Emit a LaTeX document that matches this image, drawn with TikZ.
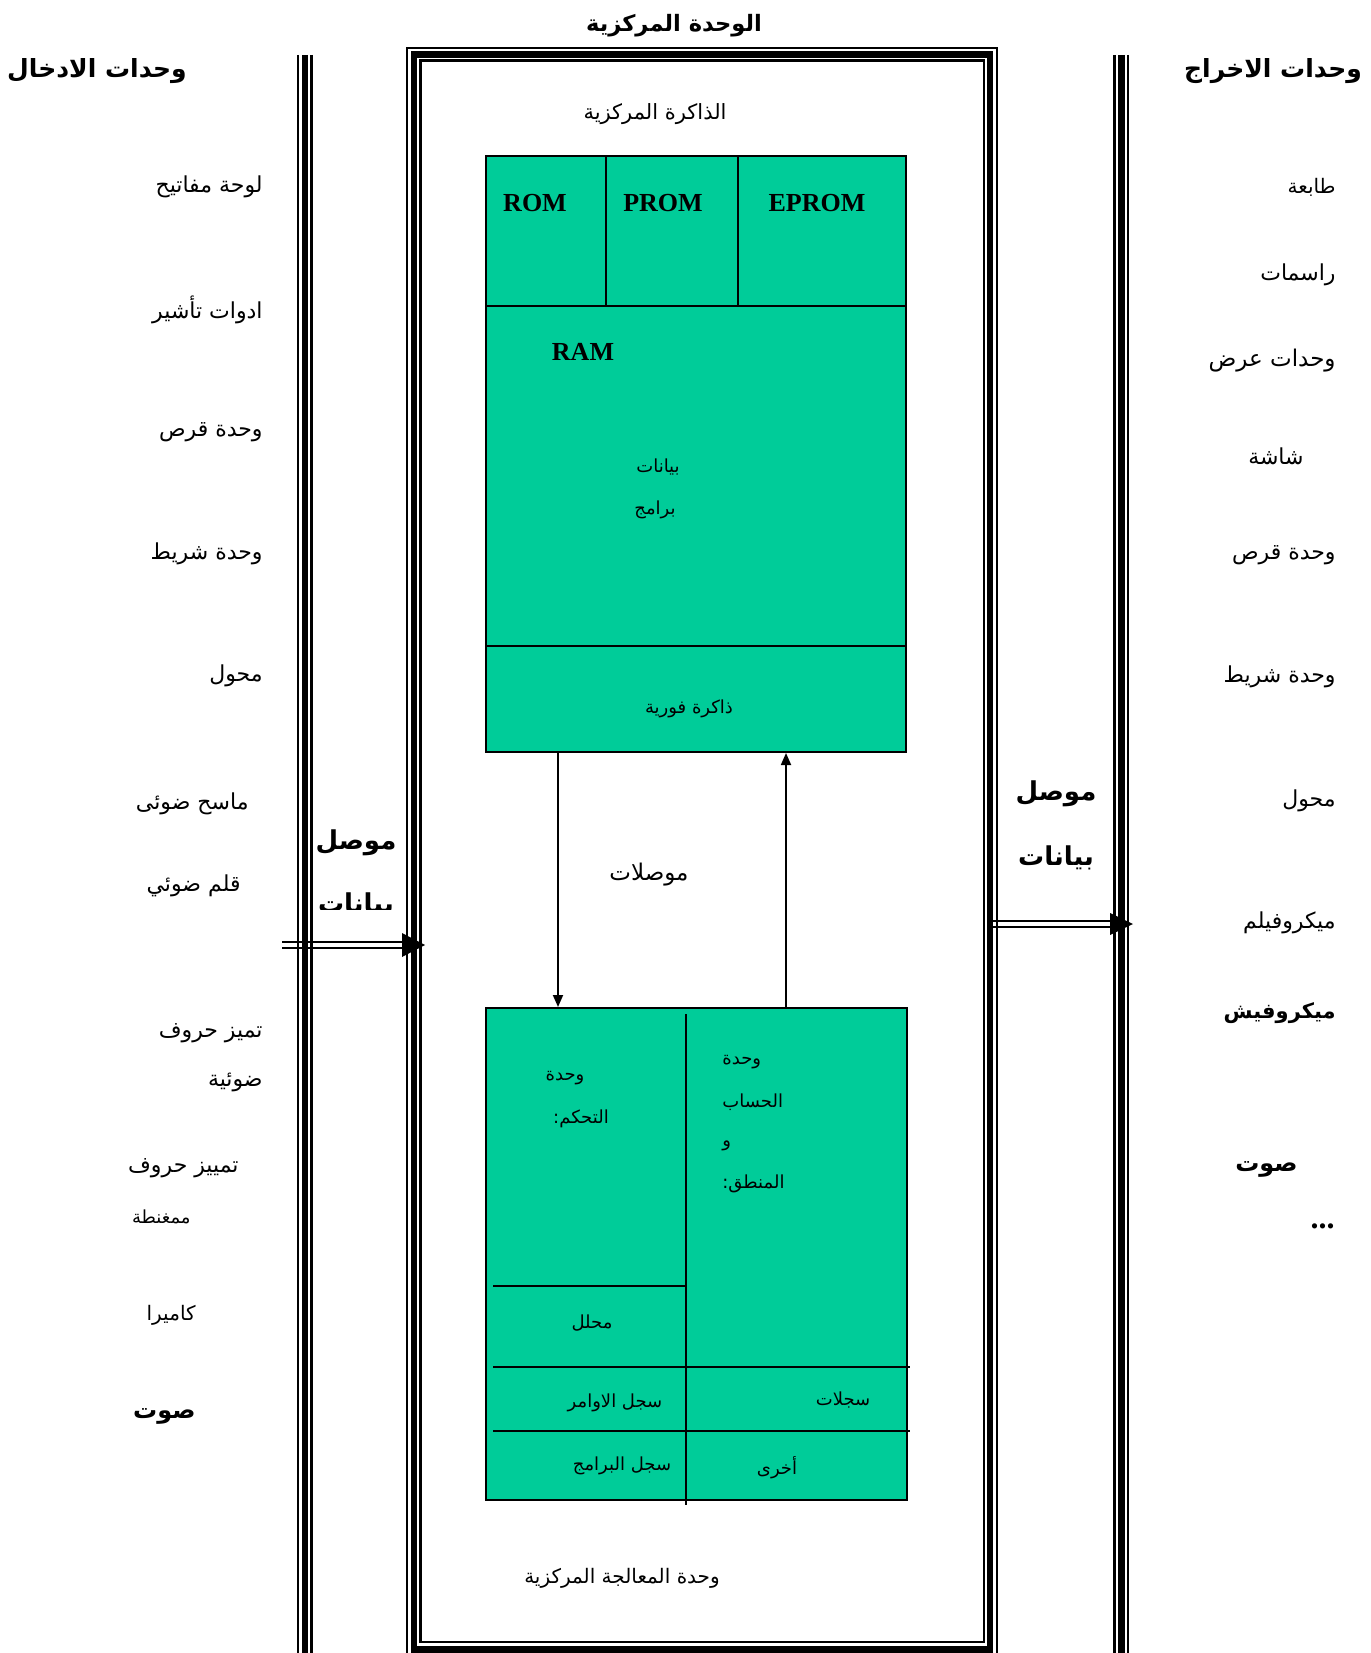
\documentclass[tikz,border=0pt]{standalone}
\usepackage{fontspec}
\setmainfont{Liberation Serif}
\newfontfamily\arfont[Script=Arabic]{DejaVu Sans}
\TeXXeTstate=1
\usetikzlibrary{arrows.meta}
\definecolor{cpugreen}{RGB}{0,204,153}
\newcommand{\AR}[1]{\beginR #1\endR}
\tikzset{
  item/.style={font=\arfont\fontsize{11}{13}\selectfont, inner sep=0pt, anchor=east},
  inlbl/.style={font=\arfont\fontsize{9}{11}\selectfont, inner sep=0pt},
  head/.style={font=\arfont\bfseries\fontsize{12.5}{14}\selectfont, inner sep=0pt},
  big/.style={font=\arfont\bfseries\fontsize{13}{15}\selectfont, inner sep=0pt},
  latin/.style={font=\bfseries\fontsize{13}{15}\selectfont, inner sep=0pt},
  greenbox/.style={draw=black, line width=1pt, fill=cpugreen, inner sep=0pt},
  divider/.style={line width=0.9pt},
  arr/.style={line width=0.9pt, -{Triangle[length=6pt,width=5pt]}},
  thin/.style={line width=1.2pt},
  thick/.style={line width=3.2pt}
}
\begin{document}
\begin{tikzpicture}[x=0.5pt,y=-0.5pt]
\useasboundingbox (0,0) rectangle (1370,1653);

% buses
\draw[thin] (298,55) -- (298,1653);
\draw[thick] (305,55) -- (305,1653);
\draw[thin] (311.5,55) -- (311.5,1653);
\draw[thin] (1114.5,55) -- (1114.5,1653);
\draw[thick] (1121.5,55) -- (1121.5,1653);
\draw[line width=1pt] (1128,55) -- (1128,1653);

% central frame
\draw[line width=1.1pt] (407,48) rectangle (997,1660);
\draw[thick] (414,54.5) rectangle (990,1649.5);
\draw[thin] (420.5,60.5) rectangle (984,1642);

% titles
\node[head, font=\arfont\bfseries\fontsize{11.3}{13}\selectfont] (title) at (674,26) {\AR{الوحدة المركزية}};
\node[head] (inhead) at (97,71) {\AR{وحدات الادخال}};
\node[head] (outhead) at (1273,71) {\AR{وحدات الاخراج}};
\node[inlbl, font=\arfont\fontsize{10.5}{12}\selectfont] (memtitle) at (655,114) {\AR{الذاكرة المركزية}};

% memory box
\node[greenbox, minimum width=210pt, minimum height=298pt] (mem) at (696,454) {};
\draw[divider] (486,306) -- (906,306);
\draw[divider] (486,646) -- (906,646);
\draw[divider] (606,156) -- (606,306);
\draw[divider] (738,156) -- (738,306);
\node[latin] (rom) at (535,203) {ROM};
\node[latin] (prom) at (663,203) {PROM};
\node[latin] (eprom) at (817,203) {EPROM};
\node[latin] (ram) at (583,352) {RAM};
\node[inlbl] (data) at (658,467) {\AR{بيانات}};
\node[inlbl] (prog) at (655,510) {\AR{برامج}};
\node[inlbl] (cache) at (689,709) {\AR{ذاكرة فورية}};

% cpu box
\node[greenbox, minimum width=210.5pt, minimum height=246pt] (cpu) at (696.5,1254) {};
\draw[divider] (686,1014) -- (686,1505);
\draw[divider] (493,1286) -- (686,1286);
\draw[divider] (493,1367) -- (910,1367);
\draw[divider] (493,1431) -- (910,1431);
\node[inlbl] (cu1) at (565,1078) {\AR{وحدة}};
\node[inlbl] (cu2) at (581,1119) {\AR{التحكم:}};
\node[inlbl, anchor=west] (alu1) at (722,1062) {\AR{وحدة}};
\node[inlbl, anchor=west] (alu2) at (722,1102) {\AR{الحساب}};
\node[inlbl, anchor=west] (alu3) at (722,1146) {\AR{و}};
\node[inlbl, anchor=west] (alu4) at (722,1184) {\AR{المنطق:}};
\node[inlbl] (decoder) at (592,1323) {\AR{محلل}};
\node[inlbl] (ir) at (615,1403) {\AR{سجل الاوامر}};
\node[inlbl] (regs) at (843,1400) {\AR{سجلات}};
\node[inlbl] (pc) at (622,1466) {\AR{سجل البرامج}};
\node[inlbl] (other) at (777,1468) {\AR{أخرى}};
\node[inlbl, font=\arfont\fontsize{10}{12}\selectfont] (cputitle) at (622,1578) {\AR{وحدة المعالجة المركزية}};

% internal connectors
\coordinate (dnx) at (558,0);
\coordinate (upx) at (786,0);
\draw[arr] (mem.south -| dnx) -- (cpu.north -| dnx);
\draw[arr] (cpu.north -| upx) -- (mem.south -| upx);
\node[inlbl, font=\arfont\fontsize{11.5}{13}\selectfont] (buses) at (649,875) {\AR{موصلات}};

% data bus labels
\node[big] (lbus1) at (356,843) {\AR{موصل}};
\begin{scope}
  \clip (300,870) rectangle (405,909);
  \node[big] (lbus2) at (356,905) {\AR{بيانات}};
\end{scope}
\node[big] (rbus1) at (1056,794) {\AR{موصل}};
\node[big] (rbus2) at (1056,858) {\AR{بيانات}};

% bus arrows
\coordinate (inS) at (282,945);
\coordinate (inE) at (425,945);
\draw[line width=1pt] ([yshift=1.5pt]inS) -- ([yshift=1.5pt,xshift=-10pt]inE);
\draw[line width=1pt] ([yshift=-1.5pt]inS) -- ([yshift=-1.5pt,xshift=-10pt]inE);
\fill (inE) -- ([xshift=-11.5pt,yshift=6pt]inE) -- ([xshift=-11.5pt,yshift=-6pt]inE) -- cycle;
\coordinate (outS) at (992,924);
\coordinate (outE) at (1133,924);
\draw[line width=1pt] ([yshift=1.5pt]outS) -- ([yshift=1.5pt,xshift=-10pt]outE);
\draw[line width=1pt] ([yshift=-1.5pt]outS) -- ([yshift=-1.5pt,xshift=-10pt]outE);
\fill (outE) -- ([xshift=-11.5pt,yshift=5.5pt]outE) -- ([xshift=-11.5pt,yshift=-5.5pt]outE) -- cycle;

% input devices
\node[item] (i1) at (263,187) {\AR{لوحة مفاتيح}};
\node[item] (i2) at (263,310) {\AR{ادوات تأشير}};
\node[item] (i3) at (263,432) {\AR{وحدة قرص}};
\node[item] (i4) at (263,554) {\AR{وحدة شريط}};
\node[item] (i5) at (263,676) {\AR{محول}};
\node[item] (i6) at (249,804) {\AR{ماسح ضوئى}};
\node[item] (i7) at (241,886) {\AR{قلم ضوئي}};
\node[item] (i8) at (263,1033) {\AR{تميز حروف}};
\node[item] (i9) at (263,1082) {\AR{ضوئية}};
\node[item] (i10) at (239,1168) {\AR{تمييز حروف}};
\node[item, font=\arfont\fontsize{9}{11}\selectfont] (i11) at (191,1217) {\AR{ممغنطة}};
\node[item, font=\arfont\fontsize{10}{12}\selectfont] (i12) at (196,1315) {\AR{كاميرا}};
\node[item, font=\arfont\bfseries\fontsize{12}{14}\selectfont] (i13) at (196,1416) {\AR{صوت}};

% output devices
\node[item, font=\arfont\fontsize{10}{12}\selectfont] (o1) at (1336,187) {\AR{طابعة}};
\node[item] (o2) at (1336,275) {\AR{راسمات}};
\node[item, font=\arfont\fontsize{11.5}{13}\selectfont] (o3) at (1336,361) {\AR{وحدات عرض}};
\node[item] (o4) at (1304,456) {\AR{شاشة}};
\node[item] (o5) at (1336,555) {\AR{وحدة قرص}};
\node[item] (o6) at (1336,677) {\AR{وحدة شريط}};
\node[item] (o7) at (1336,801) {\AR{محول}};
\node[item] (o8) at (1336,923) {\AR{ميكروفيلم}};
\node[item, font=\arfont\bfseries\fontsize{10.5}{12}\selectfont] (o9) at (1336,1013) {\AR{ميكروفيش}};
\node[item, font=\arfont\bfseries\fontsize{12}{14}\selectfont] (o10) at (1298,1169) {\AR{صوت}};
\node[item, font=\bfseries\fontsize{16}{18}\selectfont] (o11) at (1335,1226) {...};
\end{tikzpicture}
\end{document}
